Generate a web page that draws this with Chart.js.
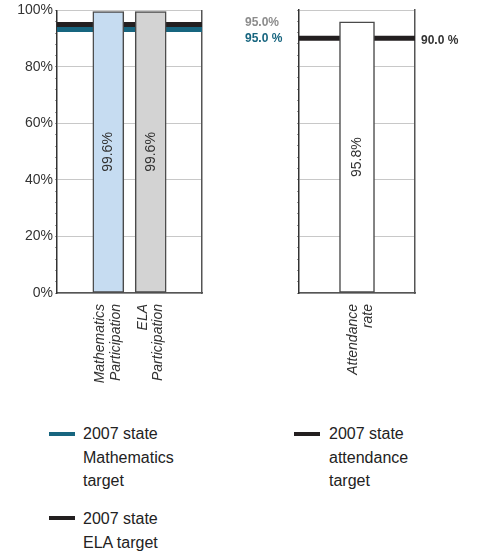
<!DOCTYPE html>
<html>
<head>
<meta charset="utf-8">
<script src="https://cdn.jsdelivr.net/npm/chart.js@4/dist/chart.umd.min.js"></script>
<style>
    body { margin: 0; background: #fff; font-family: "Liberation Sans", Arial, sans-serif; }
    #wrap { position: relative; width: 477px; height: 556px; }
    .box { position: absolute; top: 0; height: 400px; }
    #leftBox { left: 0; width: 290px; }
    #rightBox { left: 290px; width: 187px; }
    .leg { position: absolute; font-size: 16px; line-height: 23.5px; color: #222; }
    .sw { position: absolute; width: 26px; height: 4px; }
</style>
</head>
<body>
<div id="wrap">
    <div class="box" id="leftBox"><canvas id="partChart"></canvas></div>
    <div class="box" id="rightBox"><canvas id="attChart"></canvas></div>

    <div class="sw" style="left:49px; top:432px; background:#17657f;"></div>
    <div class="leg" style="left:83px; top:422px;">2007 state<br>Mathematics<br>target</div>

    <div class="sw" style="left:49px; top:516px; background:#231f20;"></div>
    <div class="leg" style="left:83px; top:507px;">2007 state<br>ELA target</div>

    <div class="sw" style="left:294px; top:432px; background:#231f20;"></div>
    <div class="leg" style="left:329px; top:422px;">2007 state<br>attendance<br>target</div>
</div>

<script>
// chart data
const partLabels = [['Mathematics', 'Participation'], ['ELA', 'Participation']];
const partValues = [99.6, 99.6];
const partColors = ['#c6dcf1', '#d3d3d3'];

const attLabels = [['Attendance', 'rate']];
const attValues = [95.8];

const yTicks = [0, 20, 40, 60, 80, 100];
const yMinorStep = 4;

// state targets
const partTargets = [
    { value: 95.0, color: '#231f20', label: '95.0%', labelColor: '#8c8c8c', shift: 0, labelDy: -2 },
    { value: 95.0, color: '#17657f', label: '95.0 %', labelColor: '#17657f', shift: 5, labelDy: 14 }
];
const attTargets = [
    { value: 90.0, color: '#231f20', label: '90.0 %', labelColor: '#333333', shift: 0, labelDy: 2 }
];

const fontFamily = '"Liberation Sans", Arial, sans-serif';

// draws the target bands behind the bars, with the value to the right
const targetPlugin = {
    id: 'targets',
    beforeDatasetsDraw(chart, args, opts) {
        const ctx = chart.ctx;
        const area = chart.chartArea;
        const y = chart.scales.y;
        ctx.save();
        (opts.items || []).forEach(t => {
            const py = y.getPixelForValue(t.value) + t.shift;
            ctx.strokeStyle = t.color;
            ctx.lineWidth = 5;
            ctx.beginPath();
            ctx.moveTo(area.left, py);
            ctx.lineTo(area.right, py);
            ctx.stroke();
        });
        ctx.restore();
    },
    afterDraw(chart, args, opts) {
        const ctx = chart.ctx;
        const area = chart.chartArea;
        const y = chart.scales.y;
        ctx.save();
        ctx.font = 'bold 12px ' + fontFamily;
        ctx.textAlign = 'left';
        ctx.textBaseline = 'middle';
        (opts.items || []).forEach(t => {
            const py = y.getPixelForValue(t.value) + t.labelDy;
            ctx.fillStyle = t.labelColor;
            ctx.fillText(t.label, area.right + (opts.labelGap || 6), py);
        });
        ctx.restore();
    }
};

// value written vertically inside each bar
const barTextPlugin = {
    id: 'barText',
    afterDatasetsDraw(chart) {
        const ctx = chart.ctx;
        ctx.save();
        ctx.font = '14px ' + fontFamily;
        ctx.fillStyle = '#333';
        ctx.textAlign = 'center';
        ctx.textBaseline = 'middle';
        chart.getDatasetMeta(0).data.forEach((bar, i) => {
            const v = chart.data.datasets[0].data[i].y;
            ctx.save();
            ctx.translate(bar.x, (bar.y + bar.base) / 2);
            ctx.rotate(-Math.PI / 2);
            ctx.fillText(v.toFixed(1) + '%', 0, 0);
            ctx.restore();
        });
        ctx.restore();
    }
};

function isMajor(v) {
    return yTicks.includes(v);
}

function makeChart(id, labels, values, colors, targets, opt) {
    const ctx = document.getElementById(id).getContext('2d');
    return new Chart(ctx, {
        type: 'bar',
        data: {
            datasets: [{
                data: values.map((v, i) => ({ x: i + 1, y: v })),
                backgroundColor: colors,
                borderColor: '#4a4a4a',
                borderWidth: 1.5,
                borderSkipped: false,
                barThickness: opt.barThickness
            }]
        },
        options: {
            responsive: true,
            maintainAspectRatio: false,
            animation: false,
            layout: { padding: { top: 10, right: opt.padRight, left: 0, bottom: 0 } },
            plugins: {
                legend: { display: false },
                tooltip: { enabled: false },
                targets: { items: targets, labelGap: opt.labelGap }
            },
            scales: {
                x: {
                    type: 'linear',
                    bounds: 'data',
                    offset: false,
                    min: opt.xMin,
                    max: opt.xMax,
                    afterBuildTicks: s => { s.ticks = labels.map((l, i) => ({ value: i + 1 })); },
                    ticks: {
                        autoSkip: false,
                        minRotation: 90,
                        maxRotation: 90,
                        padding: 3,
                        labelOffset: opt.labelShift,
                        color: '#333',
                        font: { family: fontFamily, size: 14, style: 'italic', lineHeight: 1.1 },
                        callback: v => labels[Math.round(v) - 1]
                    },
                    grid: { display: false },
                    border: { color: '#555', width: 1.5 },
                    afterFit: s => { s.height = 107; }
                },
                y: {
                    min: 0,
                    max: 100,
                    afterBuildTicks: s => {
                        const t = [];
                        for (let v = 0; v <= 100; v += yMinorStep) t.push({ value: v });
                        s.ticks = t;
                    },
                    ticks: {
                        display: opt.showYTicks,
                        autoSkip: false,
                        padding: 2,
                        color: '#333',
                        font: { family: fontFamily, size: 14 },
                        callback: v => isMajor(v) ? v + '%' : ''
                    },
                    grid: {
                        color: c => isMajor(c.tick.value) ? '#c8c8c8' : 'rgba(0,0,0,0)',
                        drawTicks: true,
                        tickLength: 2,
                        tickColor: '#999',
                        tickWidth: 1
                    },
                    border: { color: '#333', width: 1.5 },
                    afterFit: s => { s.width = opt.yWidth; }
                },
                yRight: {
                    position: 'right',
                    ticks: { display: false },
                    grid: { display: false, drawTicks: false },
                    border: { color: '#555', width: 1.5 },
                    afterFit: s => { s.width = 0; }
                }
            }
        },
        plugins: [targetPlugin, barTextPlugin]
    });
}

makeChart('partChart', partLabels, partValues, partColors, partTargets, {
    barThickness: 31, padRight: 88, xMin: -0.21, xMax: 3.21,
    showYTicks: true, yWidth: 57, labelGap: 43, labelShift: -8
});

makeChart('attChart', attLabels, attValues, ['#ffffff'], attTargets, {
    barThickness: 35, padRight: 62, xMin: 0, xMax: 2,
    showYTicks: false, yWidth: 9, labelGap: 6, labelShift: -4
});
</script>
</body>
</html>
